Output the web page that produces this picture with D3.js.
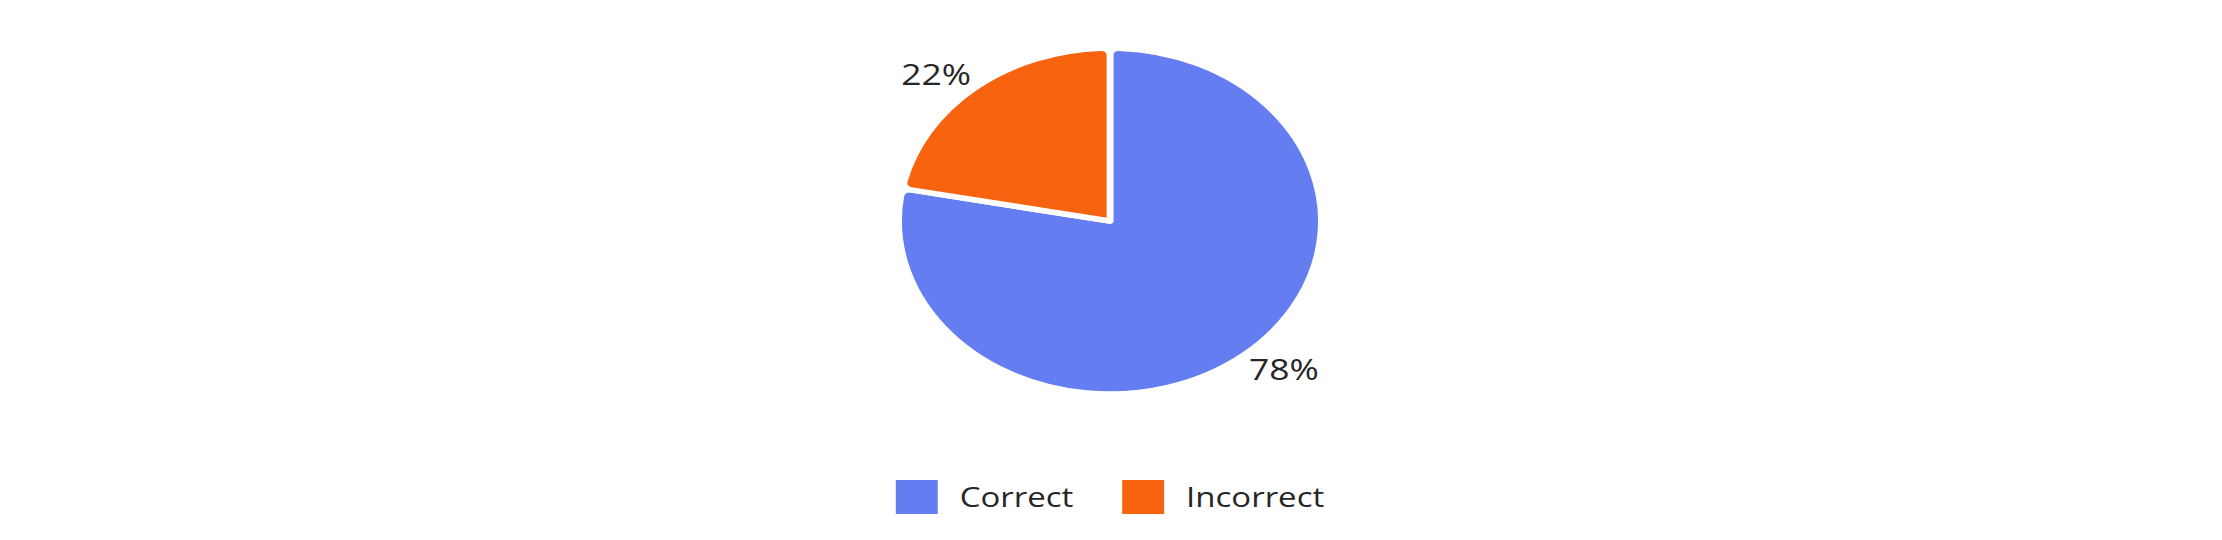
<!DOCTYPE html>
<html>
<head>
<meta charset="utf-8">
<script src="https://cdn.jsdelivr.net/npm/d3@7"></script>
<style>
  html, body { margin: 0; padding: 0; background: #ffffff; }
  svg { display: block; }
</style>
</head>
<body>
<svg id="chart" width="2222" height="540"></svg>
<script>
const categories = ["Correct", "Incorrect"];
const values = [78, 22];
const colors = ["#647df0", "#f7630f"];

const W = 2222, H = 540;
const cx = 1110, cy = 221;
const radius = 173;
const sx = 1.222;
const fontFamily = "'Open Sans', 'Noto Sans', sans-serif";
const textColor = "#262626";

const svg = d3.select("#chart");
const g = svg.append("g").attr("transform", `translate(${cx},0) scale(${sx},1)`);
const pieG = g.append("g").attr("transform", `translate(0,${cy})`);

const data = categories.map((c, i) => ({ name: c, value: values[i], color: colors[i] }));
const pie = d3.pie().value(d => d.value).sort(null);
const arcs = pie(data);
const arc = d3.arc().innerRadius(0).outerRadius(radius).cornerRadius(7);

pieG.selectAll("path.slice")
  .data(arcs)
  .join("path")
  .attr("class", "slice")
  .attr("d", arc)
  .attr("fill", d => d.data.color)
  .attr("stroke", "#ffffff")
  .attr("stroke-width", 5.5)
  .attr("stroke-linejoin", "round");

const total = d3.sum(values);
const labelRx = radius * 1.081, labelRy = radius * 1.107, labelPad = 5.5;
pieG.selectAll("text.lbl")
  .data(arcs)
  .join("text")
  .attr("class", "lbl")
  .each(function(d) {
    const a = (d.startAngle + d.endAngle) / 2;
    const s = Math.sin(a) < 0 ? -1 : 1;
    const x = Math.sin(a) * labelRx - s * labelPad;
    const y = -Math.cos(a) * labelRy;
    d3.select(this)
      .attr("x", x)
      .attr("y", y)
      .attr("text-anchor", s < 0 ? "end" : "start");
  })
  .attr("dominant-baseline", "central")
  .attr("font-family", fontFamily)
  .attr("font-size", 29)
  .attr("fill", textColor)
  .text(d => Math.round(d.data.value / total * 100) + "%");

// Legend
const legendY = 480, boxW = 34.3, boxH = 34, gapText = 18, gapItem = 40, legFont = 27;
const legG = g.append("g");
const items = legG.selectAll("g.item").data(data).join("g").attr("class", "item");
items.append("rect")
  .attr("width", boxW).attr("height", boxH)
  .attr("y", legendY)
  .attr("fill", d => d.color);
items.append("text")
  .attr("x", boxW + gapText)
  .attr("y", legendY + 27)
  .attr("font-family", fontFamily)
  .attr("font-size", legFont)
  .attr("fill", textColor)
  .text(d => d.name);
const widths = [];
items.each(function() {
  const tw = d3.select(this).select("text").node().getComputedTextLength();
  widths.push(boxW + gapText + tw);
});
const totalW = d3.sum(widths) + gapItem * (widths.length - 1);
let xpos = -totalW / 2;
items.attr("transform", (d, i) => {
  const t = `translate(${xpos},0)`;
  xpos += widths[i] + gapItem;
  return t;
});
</script>
</body>
</html>
